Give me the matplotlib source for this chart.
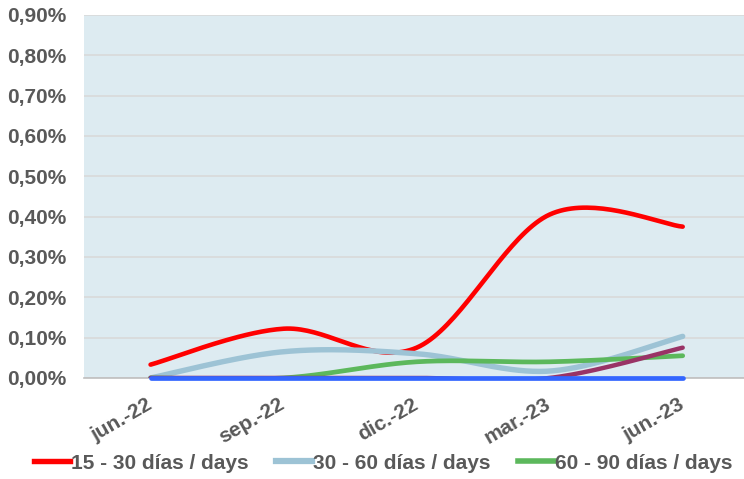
import numpy as np
import matplotlib
matplotlib.use("Agg")
import matplotlib.pyplot as plt
import matplotlib.transforms as mtransforms
from matplotlib.lines import Line2D

categories = ["jun.-22", "sep.-22", "dic.-22", "mar.-23", "jun.-23"]
s_15_30 = [0.033, 0.122, 0.075, 0.405, 0.375]
s_30_60 = [0.000, 0.065, 0.060, 0.017, 0.103]
s_60_90 = [0.000, 0.000, 0.040, 0.040, 0.055]
s_90_120 = [0.000, 0.000, 0.000, 0.000, 0.075]
s_120 = [0.000, 0.000, 0.000, 0.000, 0.000]
yticks = [0.0, 0.1, 0.2, 0.3, 0.4, 0.5, 0.6, 0.7, 0.8, 0.9]
ytick_labels = ["0,00%", "0,10%", "0,20%", "0,30%", "0,40%", "0,50%", "0,60%", "0,70%", "0,80%", "0,90%"]

series = [
    ("15 - 30 días / days", s_15_30, "#FF0000", 3.3, True),
    ("30 - 60 días / days", s_30_60, "#9DC3D5", 3.9, True),
    ("60 - 90 días / days", s_60_90, "#5CB85C", 3.4, True),
    ("90 - 120 días / days", s_90_120, "#993366", 3.2, False),
    ("> 120 días / days", s_120, "#3366FF", 3.4, False),
]


def smooth(xs, ys, n=40):
    xs = np.asarray(xs, float)
    ys = np.asarray(ys, float)
    P = np.column_stack([xs, ys])
    Pe = np.vstack([P[0], P, P[-1]])
    out = []
    t = np.linspace(0, 1, n)[:, None]
    for i in range(len(P) - 1):
        p0 = Pe[i + 1]
        p3 = Pe[i + 2]
        c1 = p0 + (Pe[i + 2] - Pe[i]) / 6.0
        c2 = p3 - (Pe[i + 3] - Pe[i + 1]) / 6.0
        seg = ((1 - t) ** 3) * p0 + 3 * ((1 - t) ** 2) * t * c1 + 3 * (1 - t) * t ** 2 * c2 + t ** 3 * p3
        out.append(seg if i == 0 else seg[1:])
    pts = np.vstack(out)
    return pts[:, 0], pts[:, 1]


plt.rcParams["font.family"] = ["Liberation Sans", "DejaVu Sans"]
plt.rcParams["font.weight"] = "bold"

fs = 15
fig = plt.figure(figsize=(7.44, 4.79), dpi=100)
ax = fig.add_axes([0.113, 0.211, 0.894, 0.758])
ax.set_facecolor("#DDEBF1")

x = np.arange(len(categories))
n_series = len(series)
for i, (name, vals, col, lw, _) in enumerate(series):
    sx, sy = smooth(x, vals)
    ax.plot(sx, sy, color=col, lw=lw, solid_capstyle="round", zorder=3 + i,
            clip_on=(i != n_series - 1))

ax.set_xlim(-0.5, 4.5)
ax.set_ylim(0, 0.9)
ax.set_yticks(yticks)
ax.set_yticklabels(ytick_labels)
ax.grid(axis="y", color="#D9D9D9", lw=1.2, zorder=0)
ax.set_axisbelow(True)
for s in ["top", "right", "left"]:
    ax.spines[s].set_visible(False)
ax.spines["bottom"].set_color("#BFBFBF")
ax.spines["bottom"].set_linewidth(1.2)
ax.tick_params(axis="y", length=0, pad=13, labelsize=fs, labelcolor="#595959")
ax.tick_params(axis="x", length=0, pad=9, labelsize=fs, labelcolor="#595959")
ax.set_xticks(x)
ax.set_xticklabels(categories, rotation=30, ha="right", va="top", rotation_mode="anchor")
offset = mtransforms.ScaledTranslation(-5 / 100, -4 / 100, fig.dpi_scale_trans)
for lbl in ax.get_xticklabels():
    lbl.set_fontweight("bold")
    lbl.set_transform(lbl.get_transform() + offset)
for lbl in ax.get_yticklabels():
    lbl.set_fontweight("bold")

handles = [Line2D([0], [0], color=c, lw=lw + 0.6) for (_, _, c, lw, show) in series if show]
labels = [n for (n, _, _, _, show) in series if show]
leg = fig.legend(handles, labels, loc="center", bbox_to_anchor=(0.515, 0.033), ncol=3,
                 frameon=False, fontsize=fs, handlelength=1.75, handletextpad=0.05,
                 columnspacing=1.3, labelcolor="#595959")
for t in leg.get_texts():
    t.set_fontweight("bold")

fig.savefig("out.png", dpi=100)
